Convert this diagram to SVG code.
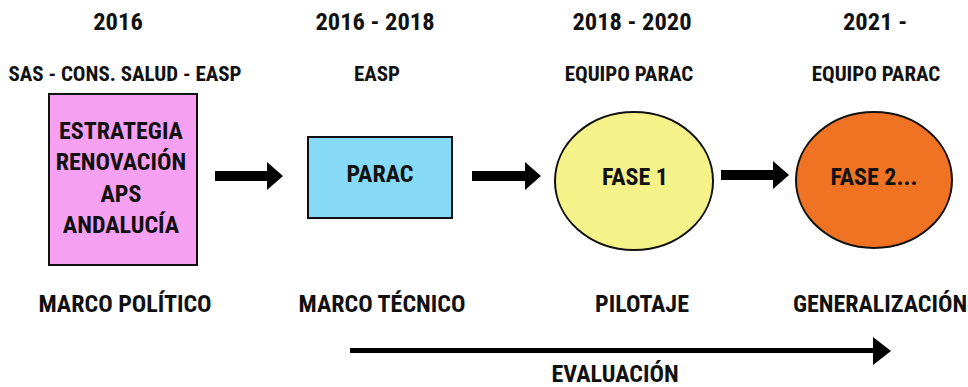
<svg xmlns="http://www.w3.org/2000/svg" width="968" height="387" viewBox="0 0 968 387">
<defs>
<style>
text{font-family:"Roboto Condensed","Liberation Sans Narrow","Liberation Sans",sans-serif;font-weight:bold;fill:#111;text-anchor:middle}
.yr{font-size:24.5px}
.sub{font-size:21px}
.lbl{font-size:24px}
.in{font-size:24px}
.node{stroke:#111;stroke-width:2}
.arr{fill:#000}
</style>
</defs>
<rect width="968" height="387" fill="#fff"/>
<g id="headers">
<text class="yr" x="118" y="30">2016</text>
<text class="yr" x="375" y="30">2016 - 2018</text>
<text class="yr" x="632" y="30">2018 - 2020</text>
<text class="yr" x="875" y="30">2021 -</text>
<text class="sub" x="125" y="81">SAS - CONS. SALUD - EASP</text>
<text class="sub" x="377" y="81">EASP</text>
<text class="sub" x="629" y="81">EQUIPO PARAC</text>
<text class="sub" x="876" y="81">EQUIPO PARAC</text>
</g>
<g id="node-estrategia">
<rect class="node" x="49" y="94" width="148" height="171" fill="#f6a0f2"/>
<text class="in" x="121" y="139">ESTRATEGIA</text>
<text class="in" x="121" y="170">RENOVACIÓN</text>
<text class="in" x="121" y="202">APS</text>
<text class="in" x="121" y="233">ANDALUCÍA</text>
</g>
<g id="node-parac">
<rect class="node" x="308" y="137" width="144" height="81" fill="#87daf5"/>
<text class="in" x="380" y="182">PARAC</text>
</g>
<g id="node-fase1">
<ellipse class="node" cx="634" cy="181" rx="79" ry="69" fill="#f5f28a"/>
<text class="in" x="635" y="185">FASE 1</text>
</g>
<g id="node-fase2">
<ellipse class="node" cx="874" cy="180" rx="78" ry="68" fill="#f07323"/>
<text class="in" x="874" y="185">FASE 2...</text>
</g>
<g id="labels">
<text class="lbl" x="125" y="312">MARCO POLÍTICO</text>
<text class="lbl" x="382" y="312">MARCO TÉCNICO</text>
<text class="lbl" x="642" y="312">PILOTAJE</text>
<text class="lbl" x="880" y="312">GENERALIZACIÓN</text>
<text class="lbl" x="615" y="382">EVALUACIÓN</text>
</g>
<g id="connectors">
<polygon class="arr" points="215,171 267,171 267,162 283,176 267,190 267,181 215,181"/>
<polygon class="arr" points="472,171 525,171 525,162 541,176 525,190 525,181 472,181"/>
<polygon class="arr" points="721,170 773,170 773,161 789,175 773,189 773,180 721,180"/>
<polygon class="arr" points="350,348 873,348 873,337 891,351 873,365 873,353 350,353"/>
</g>
</svg>
